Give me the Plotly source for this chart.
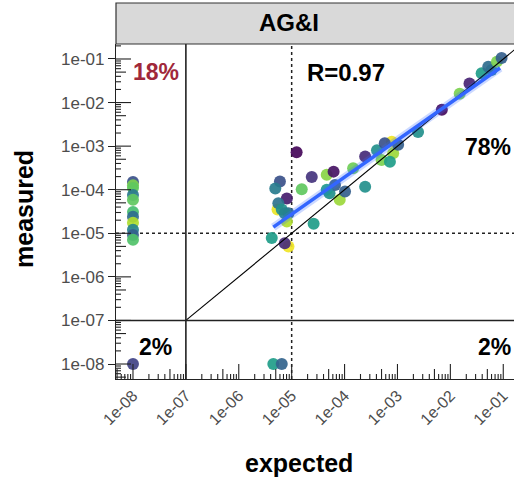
import numpy as np
import plotly.graph_objects as go

# ---- data -------------------------------------------------------------
tick_vals = [1e-08, 1e-07, 1e-06, 1e-05, 1e-04, 1e-03, 1e-02, 1e-01]
tick_text = ["1e-08", "1e-07", "1e-06", "1e-05", "1e-04", "1e-03", "1e-02", "1e-01"]

# samples with no expected value (plotted at the 1e-08 floor on x)
left_x = [1e-08] * 11
left_y = [1.5e-04, 1.26e-04, 1.1e-04, 7.6e-05, 5.9e-05, 3.1e-05,
          2.4e-05, 1.74e-05, 1.2e-05, 9.1e-06, 7.1e-06]
left_c = [0.25, 0.80, 0.75, 0.40, 0.75, 0.70, 0.35, 0.88, 0.45, 0.30, 0.72]

# samples not detected (plotted at the 1e-08 floor on y)
floor_x = [1e-08, 4.5e-06, 6.5e-06]
floor_y = [1e-08, 1e-08, 1e-08]
floor_c = [0.20, 0.55, 0.32]

# samples with both expected and measured values
main_x = [8.7e-06, 5.4e-06, 1.24e-05, 6.0e-06, 4.9e-06, 8.1e-06, 5.6e-06,
          1.55e-05, 2.4e-05, 4.6e-05, 6.2e-05, 6.5e-06, 8.7e-06, 8.1e-06,
          2.6e-05, 4.2e-06, 7.4e-06, 7.4e-06, 1.45e-04, 2.45e-04, 4.1e-04,
          7.8e-04, 5.75e-04, 8.3e-04, 5.0e-04, 7.2e-04, 1.03e-03, 2.45e-04,
          5.2e-05, 8.1e-05, 1.02e-04, 6.6e-05, 4.6e-05, 2.45e-03, 6.9e-03,
          1.5e-02, 2.3e-02, 3.9e-02, 6.0e-02, 5.2e-02, 7.6e-02, 9.3e-02]
main_y = [5.0e-06, 3.5e-05, 7.2e-04, 1.55e-04, 1.07e-04, 6.3e-05, 4.9e-05,
          1.02e-04, 1.95e-04, 2.2e-04, 2.6e-04, 3.5e-05, 2.9e-05, 1.86e-05,
          1.66e-05, 7.8e-06, 5.9e-06, 2.9e-05, 3.1e-04, 5.75e-04, 8.1e-04,
          1.26e-03, 1.17e-03, 6.9e-04, 4.8e-04, 4.4e-04, 1.07e-03, 1.17e-04,
          8.3e-05, 5.9e-05, 9.1e-05, 1.29e-04, 1.0e-04, 2.1e-03, 6.8e-03,
          1.6e-02, 2.75e-02, 4.7e-02, 5.6e-02, 6.6e-02, 8.7e-02, 1.05e-01]
main_c = [0.98, 0.97, 0.02, 0.25, 0.42, 0.08, 0.38,
          0.75, 0.15, 0.82, 0.05, 0.50, 0.35, 0.88,
          0.55, 0.55, 0.12, 0.45, 0.78, 0.12, 0.50,
          0.98, 0.25, 0.85, 0.80, 0.55, 0.30, 0.50,
          0.50, 0.85, 0.30, 0.30, 0.55, 0.50, 0.03,
          0.80, 0.10, 0.55, 0.45, 0.35, 0.80, 0.30]

# linear fit on log10 scale, drawn over the fitted span
fit_x = [4.5e-06, 8.7e-02]
fit_y = [1.38e-05, 6.2e-02]

quadrant_labels = ["18%", "78%", "2%", "2%"]
corr_label = "R=0.97"
panel_title = "AG&I"

# ---- layout constants -------------------------------------------------
W, H = 514, 477
ML, MR, MT, MB = 116, 0, 44, 98
PW, PH = W - ML - MR, H - MT - MB
X_RANGE = [-8.321, -0.797]
Y_RANGE = [-8.344, -0.656]
FONT = "Liberation Sans, Arial, sans-serif"
INK = "#222222"

fig = go.Figure()

all_x = left_x + floor_x + main_x
all_y = left_y + floor_y + main_y
all_c = left_c + floor_c + main_c
fig.add_trace(go.Scatter(
    x=all_x, y=all_y, mode="markers",
    marker=dict(size=12, color=all_c, colorscale="Viridis", cmin=0, cmax=1,
                opacity=0.92, line=dict(width=0)),
    hoverinfo="x+y", showlegend=False))

# identity line starting at the detection-limit corner
fig.add_trace(go.Scatter(x=[1e-07, 1.0], y=[1e-07, 1.0], mode="lines",
                         line=dict(color="black", width=1.1),
                         hoverinfo="skip", showlegend=False))

# fitted trend
fig.add_trace(go.Scatter(x=fit_x, y=fit_y, mode="lines",
                         line=dict(color="rgba(51,102,255,0.25)", width=8),
                         hoverinfo="skip", showlegend=False))
fig.add_trace(go.Scatter(x=fit_x, y=fit_y, mode="lines",
                         line=dict(color="#3366FF", width=3.5),
                         hoverinfo="skip", showlegend=False))

shapes = []
# detection-limit lines and reference lines
shapes.append(dict(type="line", xref="x", yref="paper", x0=1e-07, x1=1e-07,
                   y0=0, y1=1, line=dict(color=INK, width=1.6)))
shapes.append(dict(type="line", xref="paper", yref="y", x0=0, x1=1,
                   y0=1e-07, y1=1e-07, line=dict(color=INK, width=1.6)))
shapes.append(dict(type="line", xref="x", yref="paper", x0=1e-05, x1=1e-05,
                   y0=0, y1=1, line=dict(color=INK, width=1.5, dash="dot"),
                   layer="below"))
shapes.append(dict(type="line", xref="paper", yref="y", x0=0, x1=1,
                   y0=1e-05, y1=1e-05, line=dict(color=INK, width=1.5, dash="dot"),
                   layer="below"))

# log ticks drawn inside the panel along the bottom and left edges
def tick_len(m):
    return 15 if m == 1 else (10 if m == 5 else 5)

for d in range(-9, 0):
    for m in range(1, 10):
        v = m * 10.0 ** d
        lv = np.log10(v)
        L = tick_len(m)
        if X_RANGE[0] <= lv <= X_RANGE[1]:
            shapes.append(dict(type="line", xref="x", yref="paper",
                               ysizemode="pixel", yanchor=0,
                               x0=v, x1=v, y0=0, y1=L,
                               line=dict(color=INK, width=1.1)))
        if Y_RANGE[0] <= lv <= Y_RANGE[1]:
            shapes.append(dict(type="line", xref="paper", yref="y",
                               xsizemode="pixel", xanchor=0,
                               y0=v, y1=v, x0=0, x1=L,
                               line=dict(color=INK, width=1.1)))

# facet strip
strip_top = (PH + MT - 3) / PH
shapes.append(dict(type="rect", xref="paper", yref="paper", x0=0, x1=1.2,
                   y0=1.0, y1=strip_top, fillcolor="#d9d9d9",
                   line=dict(color="#333333", width=1.2)))

ann = []
def px_x(p):
    return (p - ML) / PW

def px_y(p):
    return (MT + PH - p) / PH

def label(text, x, y, size=23, color="black", ref="data", **kw):
    ref_x, ref_y = ("x", "y") if ref == "data" else ("paper", "paper")
    d = dict(text=text, xref=ref_x, yref=ref_y, x=x, y=y, showarrow=False,
             xanchor="center", yanchor="middle",
             font=dict(family=FONT, size=size, color=color, weight="bold"))
    d.update(kw)
    ann.append(d)

label(panel_title, px_x(289), px_y(23), size=24, ref="paper")
label(corr_label, -3.97, -1.30, size=24)
label(quadrant_labels[0], -7.565, -1.30, color="#a0283a")
label(quadrant_labels[1], -0.82, -3.02, xanchor="right")
label(quadrant_labels[2], -7.565, -7.61)
label(quadrant_labels[3], -0.82, -7.61, xanchor="right")
# axis titles
label("expected", px_x(299), px_y(463), size=25, ref="paper")
label("measured", px_x(24), px_y(209), size=25, ref="paper", textangle=-90)

fig.update_layout(
    width=W, height=H,
    margin=dict(l=ML, r=MR, t=MT, b=MB, pad=0),
    paper_bgcolor="white", plot_bgcolor="white",
    shapes=shapes, annotations=ann,
    xaxis=dict(type="log", range=X_RANGE, tickvals=tick_vals, ticktext=tick_text,
               tickangle=-45, ticks="", showgrid=False, zeroline=False,
               showline=True, linecolor=INK, linewidth=1.2,
               tickfont=dict(family=FONT, size=16, color="#4d4d4d")),
    yaxis=dict(type="log", range=Y_RANGE, tickvals=tick_vals, ticktext=tick_text,
               ticks="outside", ticklen=7, tickwidth=1.2, tickcolor=INK,
               showgrid=False, zeroline=False,
               showline=True, linecolor=INK, linewidth=1.2,
               tickfont=dict(family=FONT, size=17, color="#4d4d4d")),
)

fig.write_html("out.html")
